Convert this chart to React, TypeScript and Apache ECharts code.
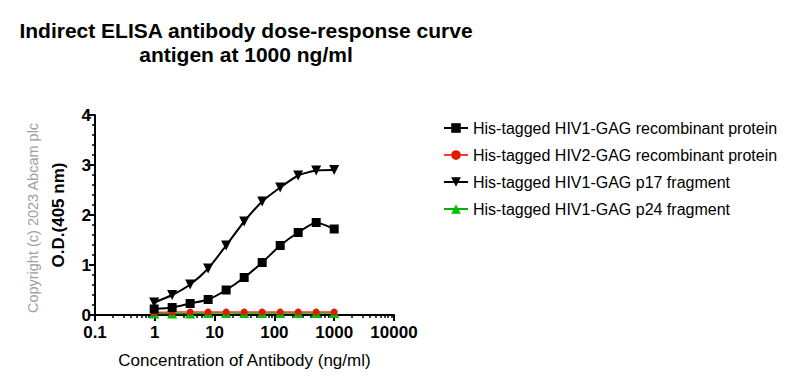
import React, { useEffect, useRef } from "react";
import * as echarts from "echarts";

const concentrations = [0.977, 1.95, 3.9, 7.8, 15.6, 31.25, 62.5, 125, 250, 500, 1000];
const hiv1Recombinant = [0.12, 0.15, 0.23, 0.31, 0.5, 0.75, 1.05, 1.39, 1.65, 1.85, 1.72];
const hiv2Recombinant = [0.05, 0.06, 0.06, 0.06, 0.06, 0.06, 0.06, 0.06, 0.06, 0.06, 0.06];
const hiv1P17 = [0.25, 0.4, 0.61, 0.93, 1.39, 1.87, 2.27, 2.55, 2.79, 2.89, 2.9];
const hiv1P24 = [0.03, 0.03, 0.03, 0.04, 0.04, 0.04, 0.04, 0.04, 0.04, 0.04, 0.04];
const seriesNames = [
  "His-tagged HIV1-GAG recombinant protein",
  "His-tagged HIV2-GAG recombinant protein",
  "His-tagged HIV1-GAG p17 fragment",
  "His-tagged HIV1-GAG p24 fragment",
];
const xTickLabels = ["0.1", "1", "10", "100", "1000", "10000"];
const yTickLabels = ["0", "1", "2", "3", "4"];

const FONT = "'Liberation Sans', Arial, sans-serif";

const minorXTicks: number[] = [];
for (let d = -1; d < 4; d++) {
  for (let k = 2; k <= 9; k++) minorXTicks.push(Number((k * Math.pow(10, d)).toPrecision(3)));
}

const pairs = (ys: number[]) => concentrations.map((x, i) => [x, ys[i]]);

export default function App() {
  const ref = useRef<HTMLDivElement>(null);
  useEffect(() => {
    if (!ref.current) return;
    const chart = echarts.init(ref.current, null, { renderer: "svg" });
    chart.setOption({
      animation: false,
      backgroundColor: "#ffffff",
      textStyle: { fontFamily: FONT },
      grid: { left: 95, right: 403, top: 115, bottom: 71, containLabel: false },
      graphic: [
        {
          type: "text",
          x: 246,
          y: 30,
          style: {
            text: "Indirect ELISA antibody dose-response curve",
            font: `bold 21px ${FONT}`,
            fill: "#000",
            textAlign: "center",
            textVerticalAlign: "middle",
          },
        },
        {
          type: "text",
          x: 246,
          y: 54,
          style: {
            text: "antigen at 1000 ng/ml",
            font: `bold 21px ${FONT}`,
            fill: "#000",
            textAlign: "center",
            textVerticalAlign: "middle",
          },
        },
        {
          type: "text",
          x: 33,
          y: 218,
          rotation: Math.PI / 2,
          style: {
            text: "Copyright (c) 2023 Abcam plc",
            font: `14.5px ${FONT}`,
            fill: "#a0a0a0",
            textAlign: "center",
            textVerticalAlign: "middle",
          },
        },
      ],
      legend: {
        orient: "vertical",
        left: 438,
        top: 115,
        itemWidth: 24,
        itemHeight: 12,
        itemGap: 11,
        textStyle: { fontSize: 16, fontFamily: FONT, color: "#000" },
        data: seriesNames,
      },
      xAxis: [
        {
          type: "log",
          logBase: 10,
          min: 0.1,
          max: 10000,
          name: "Concentration of Antibody (ng/ml)",
          nameLocation: "middle",
          nameGap: 37,
          nameTextStyle: { fontSize: 17, fontFamily: FONT, color: "#000" },
          axisLine: { lineStyle: { color: "#000", width: 2 } },
          axisTick: { length: 6, lineStyle: { color: "#000", width: 2 } },
          axisLabel: {
            fontSize: 17,
            fontWeight: "bold",
            color: "#000",
            margin: 9,
            formatter: (v: number) => {
              const idx = Math.round(Math.log10(v)) + 1;
              return xTickLabels[idx] ?? String(v);
            },
          },
          splitLine: { show: false },
          minorTick: { show: false },
        },
        {
          type: "log",
          logBase: 10,
          min: 0.1,
          max: 10000,
          position: "bottom",
          axisLine: { show: false },
          axisTick: {
            show: true,
            length: 3,
            customValues: minorXTicks,
            lineStyle: { color: "#000", width: 1.5 },
          },
          axisLabel: { show: false },
          splitLine: { show: false },
        },
      ],
      yAxis: {
        type: "value",
        min: 0,
        max: 4,
        interval: 1,
        name: "O.D.(405 nm)",
        nameLocation: "middle",
        nameGap: 28,
        nameTextStyle: { fontSize: 17, fontWeight: "bold", fontFamily: FONT, color: "#000" },
        axisLine: { show: true, lineStyle: { color: "#000", width: 2 } },
        axisTick: { show: true, length: 6, lineStyle: { color: "#000", width: 2 } },
        minorTick: { show: true, splitNumber: 5, length: 3, lineStyle: { color: "#000", width: 1.5 } },
        axisLabel: {
          fontSize: 17,
          fontWeight: "bold",
          color: "#000",
          margin: 4,
          formatter: (v: number) => yTickLabels[Math.round(v)] ?? String(v),
        },
        splitLine: { show: false },
      },
      series: [
        {
          name: seriesNames[3],
          type: "line",
          data: pairs(hiv1P24),
          symbol: "triangle",
          symbolSize: 10,
          z: 2,
          itemStyle: { color: "#00c000" },
          lineStyle: { color: "#00b000", width: 1.5 },
        },
        {
          name: seriesNames[1],
          type: "line",
          data: pairs(hiv2Recombinant),
          symbol: "circle",
          symbolSize: 7,
          z: 3,
          itemStyle: { color: "#e01a0a" },
          lineStyle: { color: "#ff3b30", width: 1.5 },
        },
        {
          name: seriesNames[0],
          type: "line",
          data: pairs(hiv1Recombinant),
          symbol: "rect",
          symbolSize: 9,
          smooth: 0.2,
          z: 4,
          itemStyle: { color: "#000" },
          lineStyle: { color: "#000", width: 2 },
        },
        {
          name: seriesNames[2],
          type: "line",
          data: pairs(hiv1P17),
          symbol: "triangle",
          symbolRotate: 180,
          symbolSize: 10,
          smooth: 0.2,
          z: 4,
          itemStyle: { color: "#000" },
          lineStyle: { color: "#000", width: 2 },
        },
      ],
    });
    return () => chart.dispose();
  }, []);
  return <div ref={ref} style={{ width: 797, height: 386, margin: -8 }} />;
}
